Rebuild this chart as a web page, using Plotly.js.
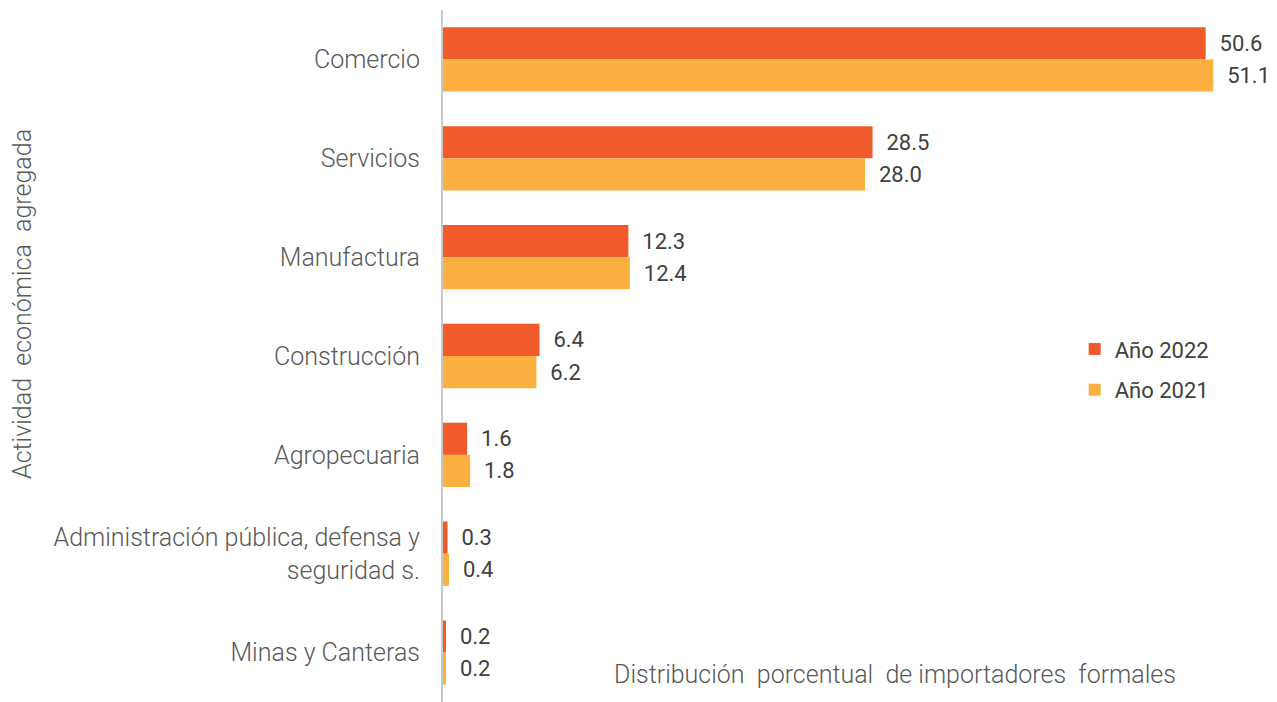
<!DOCTYPE html>
<html><head><meta charset="utf-8">
<script src="https://cdn.plot.ly/plotly-3.0.1.min.js"></script>
<style>html,body{margin:0;padding:0;background:#fff;}#chart{width:1277px;height:702px;}</style>
</head><body><div id="chart"></div>
<script>
const categories = ["Comercio","Servicios","Manufactura","Construcción","Agropecuaria","Administración pública, defensa y<br>seguridad s.","Minas y Canteras"];
const values2022 = [50.6, 28.5, 12.3, 6.4, 1.6, 0.3, 0.2];
const values2021 = [51.1, 28.0, 12.4, 6.2, 1.8, 0.4, 0.2];
const seriesNames = ["Año 2022", "Año 2021"];
const colors = ["#F15A2B", "#FBB040"];

const labelFont = {family: "Roboto, sans-serif", size: 22, color: "#404040", weight: 400};
function mk(vals, i){
  return {type:"bar", orientation:"h", name:seriesNames[i], legendgroup:"g"+i, y:categories, x:vals,
    marker:{color:colors[i]}, text:vals.map(v=>"\u00a0\u00a0"+v.toFixed(1)), textposition:"outside",
    textfont:labelFont, cliponaxis:false, hoverinfo:"x+name"};
}
const data = [mk(values2022,0), mk(values2021,1)];
const layout = {
  width:1277, height:702,
  margin:{l:443, r:5, t:10, b:0},
  paper_bgcolor:"#fff", plot_bgcolor:"#fff",
  barmode:"group", bargap:0.35, bargroupgap:0,
  xaxis:{range:[0,55], showgrid:false, zeroline:false, showticklabels:false, ticks:"", showline:false},
  yaxis:{type:"category", categoryorder:"array", categoryarray:categories, autorange:"reversed",
    showline:true, linecolor:"#c9c9c9", linewidth:2, ticks:"", ticklabelstandoff:16,
    tickfont:{family:"Roboto, sans-serif", size:25, color:"#595959", weight:300}},
  showlegend:true,
  legend:{x:0.762, y:0.54, xanchor:"left", yanchor:"top", traceorder:"grouped",
    font:{family:"Roboto, sans-serif", size:22, color:"#404040", weight:400}, tracegroupgap:9, itemwidth:30},
  annotations:[
    {text:"Distribución  porcentual  de importadores  formales", xref:"paper", yref:"paper", x:0.545, y:0.04, xanchor:"center", yanchor:"middle", showarrow:false,
      font:{family:"Roboto, sans-serif", size:25, color:"#595959", weight:300}},
    {text:"Actividad  económica  agregada", xref:"paper", yref:"paper", x:-0.508, y:0.575, xanchor:"center", yanchor:"middle", textangle:-90, showarrow:false,
      font:{family:"Roboto, sans-serif", size:25, color:"#595959", weight:300}}
  ]
};
Plotly.newPlot("chart", data, layout, {displayModeBar:false, staticPlot:true});
</script></body></html>
